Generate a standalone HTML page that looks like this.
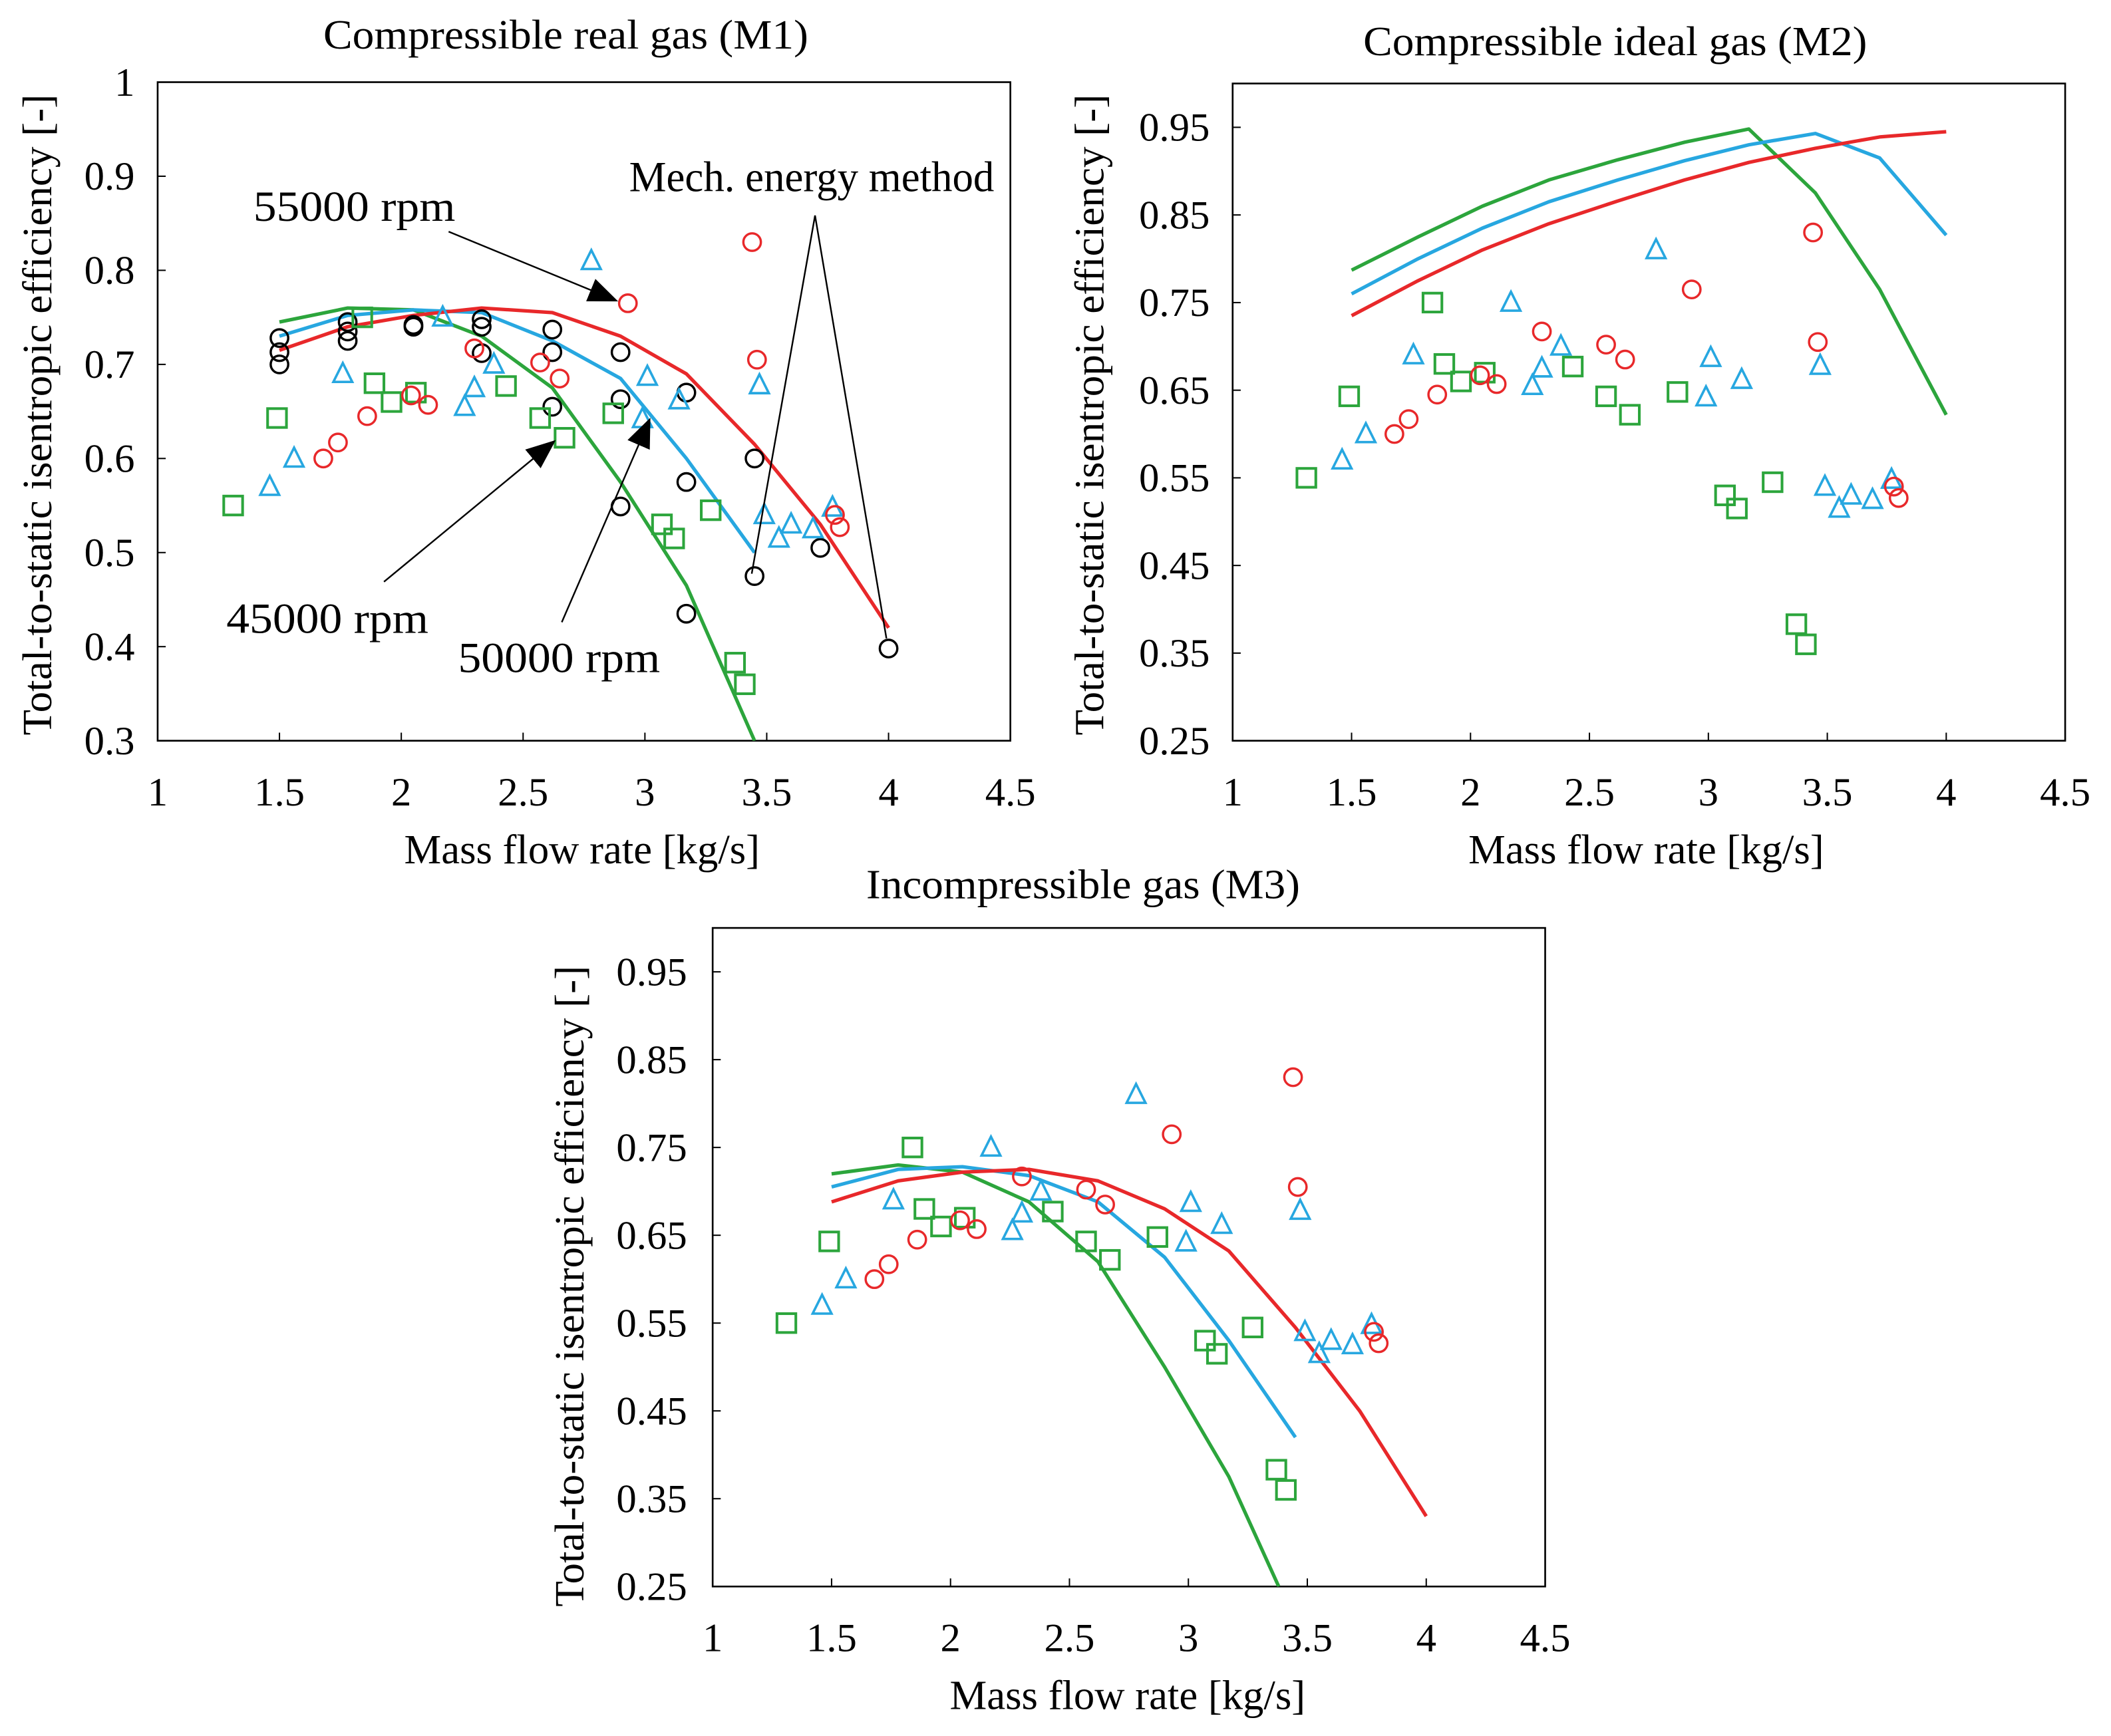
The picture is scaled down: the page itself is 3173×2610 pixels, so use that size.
<!DOCTYPE html>
<html><head><meta charset="utf-8">
<style>
html,body{margin:0;padding:0;background:#fff;}
svg{display:block;}
</style></head>
<body>
<svg id="fig" width="3173" height="2610" viewBox="0 0 1567 1289" xmlns="http://www.w3.org/2000/svg" font-family="'Liberation Serif', 'DejaVu Serif', serif">
<defs>
<marker id="ahBig" markerWidth="22" markerHeight="18" refX="20" refY="9" orient="auto" markerUnits="userSpaceOnUse" viewBox="0 0 22 18">
<path d="M0,0 L22,9 L0,18 z" fill="#000"/></marker>
</defs>
</svg>
<script>
// ---- shared data ----
const xTicks = [1, 1.5, 2, 2.5, 3, 3.5, 4, 4.5];
const xTickLabels = ["1", "1.5", "2", "2.5", "3", "3.5", "4", "4.5"];
const yTicksM1 = [0.3, 0.4, 0.5, 0.6, 0.7, 0.8, 0.9, 1];
const yTickLabelsM1 = ["0.3", "0.4", "0.5", "0.6", "0.7", "0.8", "0.9", "1"];
const yTicksM23 = [0.25, 0.35, 0.45, 0.55, 0.65, 0.75, 0.85, 0.95];
const yTickLabelsM23 = ["0.25", "0.35", "0.45", "0.55", "0.65", "0.75", "0.85", "0.95"];

// experimental markers (same in all panels)
const red55X = [1.68, 1.74, 1.86, 2.04, 2.11, 2.3, 2.57, 2.65, 2.93, 3.44, 3.46, 3.78, 3.8];
const red55Y = [0.60, 0.617, 0.645, 0.667, 0.657, 0.717, 0.702, 0.685, 0.765, 0.83, 0.705, 0.54, 0.527];
const blue50X = [1.46, 1.56, 1.76, 2.17, 2.26, 2.3, 2.38, 2.78, 2.99, 3.01, 3.14, 3.47, 3.49, 3.55, 3.6, 3.69, 3.77];
const blue50Y = [0.57, 0.60, 0.69, 0.75, 0.655, 0.675, 0.70, 0.81, 0.642, 0.687, 0.662, 0.678, 0.54, 0.515, 0.53, 0.525, 0.548];
const green45X = [1.31, 1.49, 1.84, 1.89, 1.96, 2.06, 2.43, 2.57, 2.67, 2.87, 3.07, 3.12, 3.27, 3.37, 3.41];
const green45Y = [0.55, 0.643, 0.75, 0.68, 0.66, 0.67, 0.677, 0.643, 0.622, 0.648, 0.53, 0.515, 0.545, 0.383, 0.36];
// mech energy method (M1 only)
const mechX = [1.5, 1.5, 1.5, 1.78, 1.78, 1.78, 2.05, 2.05, 2.33, 2.33, 2.33, 2.62, 2.62, 2.62, 2.9, 2.9, 2.9, 3.17, 3.17, 3.17, 3.45, 3.45, 3.72, 4.0];
const mechY = [0.728, 0.713, 0.70, 0.745, 0.735, 0.725, 0.742, 0.74, 0.748, 0.74, 0.712, 0.737, 0.713, 0.655, 0.713, 0.663, 0.549, 0.67, 0.575, 0.435, 0.6, 0.475, 0.505, 0.398];

// model lines
const m1GreenX = [1.5, 1.78, 2.05, 2.33, 2.62, 2.9, 3.17, 3.45];
const m1GreenY = [0.745, 0.76, 0.758, 0.73, 0.675, 0.575, 0.465, 0.3];
const m1BlueX = [1.5, 1.78, 2.05, 2.33, 2.62, 2.9, 3.17, 3.45];
const m1BlueY = [0.73, 0.752, 0.758, 0.755, 0.725, 0.685, 0.6, 0.5];
const m1RedX = [1.5, 1.78, 2.05, 2.33, 2.62, 2.9, 3.17, 3.45, 3.72, 4.0];
const m1RedY = [0.715, 0.74, 0.752, 0.76, 0.755, 0.73, 0.69, 0.615, 0.53, 0.42];

const m2X = [1.5, 1.78, 2.05, 2.33, 2.62, 2.9, 3.17, 3.45, 3.72, 4.0];
const m2GreenY = [0.787, 0.825, 0.86, 0.89, 0.913, 0.933, 0.948, 0.875, 0.765, 0.622];
const m2BlueY = [0.76, 0.8, 0.835, 0.865, 0.89, 0.912, 0.93, 0.943, 0.915, 0.827];
const m2RedY = [0.735, 0.775, 0.81, 0.84, 0.866, 0.89, 0.91, 0.926, 0.939, 0.945];

const m3GreenX = [1.5, 1.78, 2.05, 2.33, 2.62, 2.9, 3.17, 3.38];
const m3GreenY = [0.72, 0.73, 0.722, 0.688, 0.62, 0.5, 0.375, 0.25];
const m3BlueX = [1.5, 1.78, 2.05, 2.33, 2.62, 2.9, 3.17, 3.45];
const m3BlueY = [0.705, 0.725, 0.728, 0.718, 0.688, 0.625, 0.53, 0.42];
const m3RedX = [1.5, 1.78, 2.05, 2.33, 2.62, 2.9, 3.17, 3.45, 3.72, 4.0];
const m3RedY = [0.688, 0.712, 0.722, 0.725, 0.712, 0.68, 0.632, 0.545, 0.45, 0.33];

const RED = "#e8282a", BLUE = "#27a7e0", GREEN = "#2ca53c";
const FONT = "'Liberation Serif', 'DejaVu Serif', serif";
const NS = "http://www.w3.org/2000/svg";
const fig = document.getElementById("fig");

function mk(tag, parent, attrs) {
  const e = document.createElementNS(NS, tag);
  for (const k in attrs) e.setAttribute(k, attrs[k]);
  parent.appendChild(e);
  return e;
}
function txt(parent, s, attrs, len) {
  const a = Object.assign({"font-family": FONT, fill: "#000"}, attrs);
  if (len) { a.textLength = len; a.lengthAdjust = "spacingAndGlyphs"; }
  const t = mk("text", parent, a);
  t.textContent = s;
  return t;
}

function panel(id, box, yMin, yMax, yTicks, yLabels, title, titleXY, titleLen, ylabXY, xlabXY, labRight) {
  const g = mk("g", fig, {});
  
  
  const sx = v => box.x0 + (v - 1) / 3.5 * (box.x1 - box.x0);
  const sy = v => box.y1 - (v - yMin) / (yMax - yMin) * (box.y1 - box.y0);
  const cid = id + "-clip";
  const cp = mk("clipPath", g, {id: cid});
  mk("rect", cp, {x: box.x0, y: box.y0, width: box.x1 - box.x0, height: box.y1 - box.y0});
  const frame = mk("rect", g, {x: box.x0, y: box.y0, width: box.x1 - box.x0, height: box.y1 - box.y0, fill: "none", stroke: "#000", "stroke-width": 1.3});
  
  
  xTicks.forEach((v, i) => {
    mk("line", g, {x1: sx(v), x2: sx(v), y1: box.y1, y2: box.y1 - 6, stroke: "#000", "stroke-width": 1});
    const t = txt(g, xTickLabels[i], {x: sx(v), y: box.y1 + 48, "font-size": 30, "text-anchor": "middle"});
    
    
  });
  yTicks.forEach((v, i) => {
    mk("line", g, {x1: box.x0, x2: box.x0 + 6, y1: sy(v), y2: sy(v), stroke: "#000", "stroke-width": 1});
    const t = txt(g, yLabels[i], {x: labRight, y: sy(v) + 10, "font-size": 30, "text-anchor": "end"});
    
    
  });
  const tt = txt(g, title, {x: titleXY[0] - titleLen / 2, y: titleXY[1], "font-size": 31}, titleLen);
  
  
  const xl = txt(g, "Mass flow rate [kg/s]", {x: xlabXY[0] - 132, y: xlabXY[1], "font-size": 31}, 264);
  
  
  const yl = txt(g, "Total-to-static isentropic efficiency [-]", {x: -238, y: 0, "font-size": 31, transform: "translate(" + ylabXY[0] + "," + ylabXY[1] + ") rotate(-90)"}, 476);
  
  
  const plot = mk("g", g, {"clip-path": "url(#" + cid + ")"});
  return {g, plot, sx, sy};
}

function line(p, xs, ys, color, name) {
  const d = xs.map((x, i) => (i ? "L" : "M") + p.sx(x).toFixed(1) + "," + p.sy(ys[i]).toFixed(1)).join(" ");
  const e = mk("path", p.plot, {d: d, fill: "none", stroke: color, "stroke-width": 2.6, "stroke-linejoin": "round"});
  
  
}
function circles(p, xs, ys, color, name) {
  xs.forEach((x, i) => {
    const e = mk("circle", p.g, {cx: p.sx(x), cy: p.sy(ys[i]), r: 6.5, fill: "none", stroke: color, "stroke-width": 1.7});
    
    
  });
}
function squares(p, xs, ys, color, name) {
  xs.forEach((x, i) => {
    const e = mk("rect", p.g, {x: p.sx(x) - 7, y: p.sy(ys[i]) - 7, width: 14, height: 14, fill: "none", stroke: color, "stroke-width": 2});
    
    
  });
}
function triangles(p, xs, ys, color, name) {
  xs.forEach((x, i) => {
    const cx = p.sx(x), cy = p.sy(ys[i]);
    const e = mk("path", p.g, {d: `M${cx},${cy - 8} L${cx + 7},${cy + 6} L${cx - 7},${cy + 6} Z`, fill: "none", stroke: color, "stroke-width": 1.8});
    
    
  });
}
function markers(p) {
  squares(p, green45X, green45Y, GREEN, 'exp-45000-point');
  triangles(p, blue50X, blue50Y, BLUE, 'exp-50000-point');
  circles(p, red55X, red55Y, RED, 'exp-55000-point');
}

// ---- Panel M1 ----
const p1 = panel("panel-m1", {x0: 117, x1: 750, y0: 61, y1: 550}, 0.3, 1.0, yTicksM1, yTickLabelsM1,
  "Compressible real gas (M1)", [420, 36], 360, [38, 308], [432, 641], 100);
circles(p1, mechX, mechY, "#000", 'mech-energy-point');
line(p1, m1GreenX, m1GreenY, GREEN, 'line-45000');
line(p1, m1BlueX, m1BlueY, BLUE, 'line-50000');
line(p1, m1RedX, m1RedY, RED, 'line-55000');
markers(p1);

// annotations
function annot(text, x, y, len, name) {
  const t = txt(p1.g, text, {x: x, y: y, "font-size": 32}, len);
  
  
}
function arrow(x1, y1, x2, y2, name) {
  const e = mk("line", p1.g, {x1, y1, x2, y2, stroke: "#000", "stroke-width": 1.2, "marker-end": "url(#ahBig)"});
  
  
}
annot("55000 rpm", 188, 164, 150, 'label-55000-rpm');
arrow(333, 172, 457, 223, 'arrow-55000');
annot("45000 rpm", 168, 470, 150, 'label-45000-rpm');
arrow(285, 432, 411, 328, 'arrow-45000');
annot("50000 rpm", 340, 499, 150, 'label-50000-rpm');
arrow(417, 462, 482, 312, 'arrow-50000');
annot("Mech. energy method", 467, 142, 271, 'label-mech-energy');
const ml = mk("path", p1.g, {d: "M558,426 L605,160 L658,474", fill: "none", stroke: "#000", "stroke-width": 1.2});



// ---- Panel M2 ----
const p2 = panel("panel-m2", {x0: 915, x1: 1533, y0: 62, y1: 550}, 0.25, 1.0, yTicksM23, yTickLabelsM23,
  "Compressible ideal gas (M2)", [1199, 41], 374, [819, 308], [1222, 641], 898);
line(p2, m2X, m2GreenY, GREEN, 'line-45000');
line(p2, m2X, m2BlueY, BLUE, 'line-50000');
line(p2, m2X, m2RedY, RED, 'line-55000');
markers(p2);

// ---- Panel M3 ----
const p3 = panel("panel-m3", {x0: 529, x1: 1147, y0: 689, y1: 1178}, 0.25, 1.0, yTicksM23, yTickLabelsM23,
  "Incompressible gas (M3)", [804, 667], 322, [433, 955], [837, 1269], 510);
line(p3, m3GreenX, m3GreenY, GREEN, 'line-45000');
line(p3, m3BlueX, m3BlueY, BLUE, 'line-50000');
line(p3, m3RedX, m3RedY, RED, 'line-55000');
markers(p3);
</script>
</body></html>
